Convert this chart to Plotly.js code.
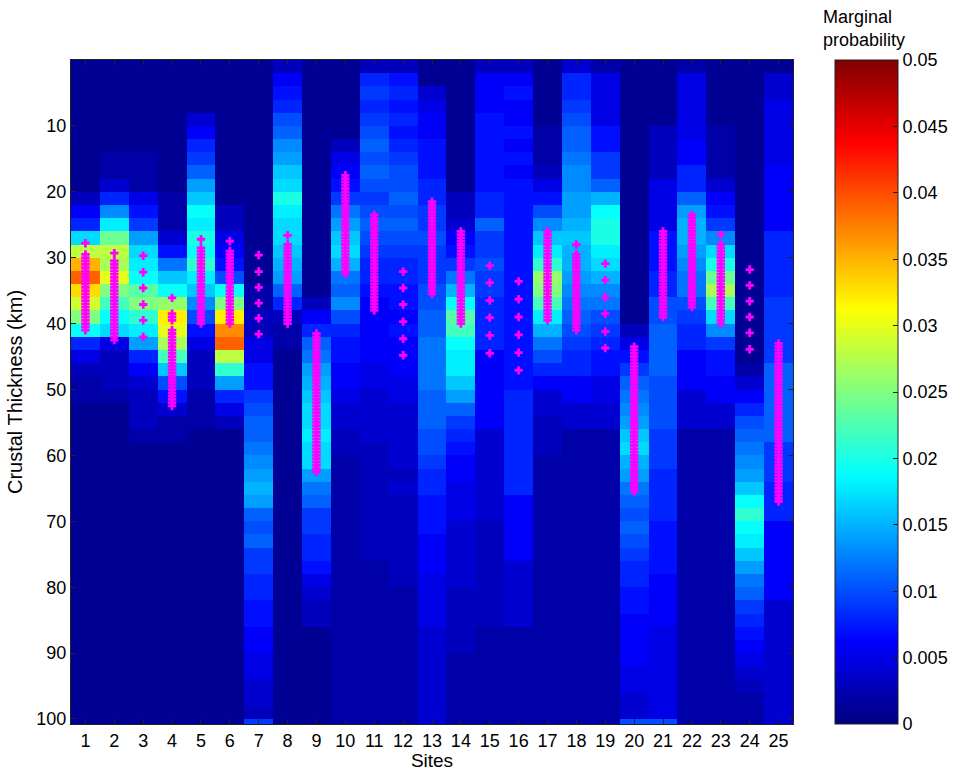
<!DOCTYPE html>
<html>
<head>
<meta charset="utf-8">
<script src="https://cdn.plot.ly/plotly-3.0.1.min.js"></script>
<style>html,body{margin:0;padding:0;background:#fff;}#chart{width:953px;height:771px;}</style>
</head>
<body>
<div id="chart"></div>
<script>
// Sites (x categories)
const sites = [1,2,3,4,5,6,7,8,9,10,11,12,13,14,15,16,17,18,19,20,21,22,23,24,25];
// Depth bin edges (km): 2 km bins, plus the thin bottom row
const depthEdges = [0,2,4,6,8,10,12,14,16,18,20,22,24,26,28,30,32,34,36,38,40,42,44,46,48,50,52,54,56,58,60,62,64,66,68,70,72,74,76,78,80,82,84,86,88,90,92,94,96,98,100,100.76];
// Marginal probability per site, in thousandths (value 10 = 0.010), one per depth bin
const site1  = [1,1,1,1,1,1,1,1,1,1, 3,6,8,17,28,35,39,33,29,25, 19,8,5,3,2,2,1,1,1,1, 1,1,1,1,1,1,1,1,1,1, 1,1,1,1,1,1,1,1,1,1, 1];
const site2  = [1,1,1,1,1,1,1,2,2,4, 8,13,18,24,28,27,30,25,22,19, 17,5,3,3,3,2,1,1,1,1, 1,1,1,1,1,1,1,1,1,1, 1,1,1,1,1,1,1,1,1,1, 1];
const site3  = [1,1,1,1,1,1,1,2,2,2, 5,7,9,14,17,18,19,23,25,21, 18,14,8,6,4,3,3,3,2,1, 1,1,1,1,1,1,1,1,1,1, 1,1,1,1,1,1,1,1,1,1, 1];
const site4  = [1,1,1,1,1,1,1,1,1,1, 2,2,2,4,7,12,16,19,26,32, 30,27,22,16,10,7,4,2,2,1, 1,1,1,1,1,1,1,1,1,1, 1,1,1,1,1,1,1,1,1,1, 1];
const site5  = [1,1,1,1,4,6,8,9,11,14, 16,19,18,20,19,21,18,16,13,10, 7,5,3,3,3,2,2,2,1,1, 1,1,1,1,1,1,1,1,1,1, 1,1,1,1,1,1,1,1,1,1, 1];
const site6  = [1,1,1,1,1,1,1,1,1,1, 1,3,3,5,6,7,10,19,25,32, 37,39,28,21,14,8,5,3,1,1, 1,1,1,1,1,1,1,1,1,1, 1,1,1,1,1,1,1,1,1,1, 1];
const site7  = [1,1,1,1,1,1,1,1,1,1, 1,1,1,1,1,1,1,2,2,3, 3,5,5,7,7,9,10,11,11,12, 13,14,15,14,11,10,11,9,9,8, 8,7,7,6,6,5,5,4,4,3, 9];
const site8  = [3,6,7,8,10,11,13,14,16,17, 20,18,17,17,16,15,14,11,8,3, 2,2,1,1,1,1,1,1,1,1, 1,1,1,1,1,1,1,1,1,1, 1,1,1,1,1,1,1,1,1,1, 1];
const site9  = [1,1,1,1,1,1,1,1,1,1, 1,1,1,1,1,1,1,1,3,6, 8,11,12,14,15,16,17,17,18,17, 17,14,12,11,9,9,8,8,7,5, 4,3,3,1,1,1,1,1,1,1, 1];
const site10 = [1,1,1,1,1,1,3,5,6,7, 9,12,14,16,17,15,12,11,13,10, 8,7,7,6,6,5,4,4,3,3, 2,2,2,2,2,2,2,2,2,2, 2,2,2,2,2,2,2,2,2,2, 2];
const site11 = [3,8,9,8,9,10,11,10,11,10, 9,10,11,10,9,8,8,7,6,6, 6,6,6,5,5,4,4,4,4,3, 3,3,3,3,3,3,3,3,2,2, 2,2,2,2,2,2,2,2,2,2, 2];
const site12 = [3,7,8,7,8,7,8,9,10,10, 11,10,11,10,9,8,8,7,7,6, 7,6,6,6,5,5,4,4,4,4, 4,3,4,3,3,3,3,3,3,3, 2,2,2,2,2,2,2,2,2,2, 2];
const site13 = [1,1,4,5,6,6,7,7,7,8, 8,9,9,10,9,9,9,10,10,11, 11,12,12,12,12,11,11,11,10,10, 9,8,8,7,7,7,6,6,6,5, 5,5,5,4,4,4,4,4,4,4, 4];
const site14 = [1,1,1,1,1,1,1,1,1,1, 3,3,4,6,7,9,12,15,19,23, 22,19,18,18,16,14,11,9,8,7, 6,6,5,5,5,4,4,4,4,4, 3,3,3,3,3,2,2,2,2,2, 2];
const site15 = [3,6,6,6,7,7,7,7,7,7, 8,8,11,9,9,10,9,9,8,8, 8,8,6,6,6,6,6,6,4,4, 4,4,4,4,4,3,3,3,3,3, 3,3,3,2,2,2,2,2,2,2, 2];
const site16 = [3,6,7,6,6,7,6,7,6,7, 7,7,7,7,7,7,7,7,7,7, 7,7,7,7,7,8,8,8,8,8, 8,8,8,6,6,6,6,6,4,4, 4,4,4,2,2,2,2,2,2,2, 2];
const site17 = [1,1,1,1,1,2,2,2,3,5, 7,10,13,16,18,21,26,25,22,18, 15,12,10,8,6,4,4,3,3,3, 2,2,2,2,2,2,2,2,2,2, 2,2,2,2,2,2,2,2,2,2, 2];
const site18 = [4,8,8,9,10,11,11,12,13,13, 14,14,15,16,15,15,14,13,12,11, 10,9,8,8,6,6,4,4,2,2, 2,2,2,2,2,2,2,2,2,2, 2,2,2,2,2,2,2,2,2,2, 2];
const site19 = [2,5,5,5,5,7,7,9,9,11, 15,19,20,20,18,17,15,13,12,10, 9,8,7,7,5,5,4,4,2,2, 2,2,2,2,2,2,2,2,2,2, 2,2,2,2,2,2,2,2,2,2, 2];
const site20 = [1,1,1,1,1,1,1,1,1,1, 1,1,1,1,1,1,1,1,1,1, 3,5,7,9,11,12,13,14,16,17, 15,14,12,11,10,11,10,9,8,8, 7,7,6,6,6,6,5,5,4,4, 10];
const site21 = [1,1,1,1,1,3,3,3,3,5, 5,5,5,7,7,7,8,8,10,10, 11,11,11,11,10,10,10,10,9,9, 9,8,8,8,8,7,7,7,7,6, 6,6,6,5,5,5,5,5,5,5, 10];
const site22 = [2,5,5,5,5,5,6,6,8,8, 11,14,15,15,14,13,12,12,10,9, 8,8,6,6,6,4,4,4,2,2, 2,2,2,2,2,2,2,2,2,2, 2,2,2,2,2,2,2,2,2,2, 2];
const site23 = [1,1,1,1,1,2,2,2,2,4, 6,7,9,13,17,20,24,27,22,17, 13,9,7,7,6,6,4,4,2,2, 2,2,2,2,2,2,2,2,2,2, 2,2,2,2,2,2,2,2,2,2, 2];
const site24 = [1,1,1,1,1,1,1,1,1,1, 1,1,1,1,1,1,1,1,1,1, 1,1,1,2,4,6,8,10,11,12, 13,14,16,19,21,19,18,16,14,12, 11,9,8,7,6,5,4,3,2,2, 2];
const site25 = [1,4,4,5,5,5,5,5,6,6, 6,6,6,8,8,8,8,8,9,9, 9,9,9,11,11,11,11,11,11,9, 9,9,8,8,8,6,6,6,6,6, 6,4,4,4,4,4,4,4,4,4, 4];
const siteProbs = [site1,site2,site3,site4,site5,site6,site7,site8,site9,site10,site11,site12,site13,site14,site15,site16,site17,site18,site19,site20,site21,site22,site23,site24,site25];

// Crustal thickness estimates (km) shown as magenta crosses, per site
const marks1  = [27.8,29.5,30,30.5,31,31.5,32,32.5,33,33.5,34,34.5,35,35.5,36,36.5,37,37.5,38,38.5,39,39.5,40,40.5,41];
const marks2  = [29.3,30.5,31,31.5,32,32.5,33,33.5,34,34.5,35,35.5,36,36.5,37,37.5,38,38.5,39,39.5,40,40.5,41,41.5,42,42.5];
const marks3  = [29.7,32.2,34.6,37.1,39.5,42];
const marks4  = [36.1,38.5,39,39.5,41,41.5,42,42.5,43,43.5,44,44.5,45,45.5,46,46.5,47,47.5,48,48.5,49,49.5,50,50.5,51,51.5,52,52.5];
const marks5  = [27.2,28.5,29,29.5,30,30.5,31,31.5,32,32.5,33,33.5,34,34.5,35,35.5,36,36.5,37,37.5,38,38.5,39,39.5,40];
const marks6  = [27.5,29,29.5,30,30.5,31,31.5,32,32.5,33,33.5,34,34.5,35,35.5,36,36.5,37,37.5,38,38.5,39,39.5,40];
const marks7  = [29.6,32.1,34.5,36.9,39.2,41.6];
const marks8  = [26.6,28,28.5,29,29.5,30,30.5,31,31.5,32,32.5,33,33.5,34,34.5,35,35.5,36,36.5,37,37.5,38,38.5,39,39.5,40];
const marks9  = [41.5,42,42.5,43,43.5,44,44.5,45,45.5,46,46.5,47,47.5,48,48.5,49,49.5,50,50.5,51,51.5,52,52.5,53,53.5,54,54.5,55,55.5,56,56.5,57,57.5,58,58.5,59,59.5,60,60.5,61,61.5,62,62.5];
const marks10 = [17.5,18,18.5,19,19.5,20,20.5,21,21.5,22,22.5,23,23.5,24,24.5,25,25.5,26,26.5,27,27.5,28,28.5,29,29.5,30,30.5,31,31.5,32,32.5];
const marks11 = [23.5,24,24.5,25,25.5,26,26.5,27,27.5,28,28.5,29,29.5,30,30.5,31,31.5,32,32.5,33,33.5,34,34.5,35,35.5,36,36.5,37,37.5,38];
const marks12 = [32.1,34.6,37.1,39.7,42.3,44.8];
const marks13 = [21.5,22,22.5,23,23.5,24,24.5,25,25.5,26,26.5,27,27.5,28,28.5,29,29.5,30,30.5,31,31.5,32,32.5,33,33.5,34,34.5,35,35.5];
const marks14 = [26,26.5,27,27.5,28,28.5,29,29.5,30,30.5,31,31.5,32,32.5,33,33.5,34,34.5,35,35.5,36,36.5,37,37.5,38,38.5,39,39.5,40];
const marks15 = [31.2,33.8,36.5,39.1,41.8,44.5];
const marks16 = [33.6,36.3,39.0,41.7,44.4,47.1];
const marks17 = [26,26.5,27,27.5,28,28.5,29,29.5,30,30.5,31,31.5,32,32.5,33,33.5,34,34.5,35,35.5,36,36.5,37,37.5,38,38.5,39,39.5];
const marks18 = [28,29.5,30,30.5,31,31.5,32,32.5,33,33.5,34,34.5,35,35.5,36,36.5,37,37.5,38,38.5,39,39.5,40,40.5,41];
const marks19 = [30.9,33.4,36.0,38.5,41.2,43.7];
const marks20 = [43.5,44,44.5,45,45.5,46,46.5,47,47.5,48,48.5,49,49.5,50,50.5,51,51.5,52,52.5,53,53.5,54,54.5,55,55.5,56,56.5,57,57.5,58,58.5,59,59.5,60,60.5,61,61.5,62,62.5,63,63.5,64,64.5,65,65.5];
const marks21 = [26,26.5,27,27.5,28,28.5,29,29.5,30,30.5,31,31.5,32,32.5,33,33.5,34,34.5,35,35.5,36,36.5,37,37.5,38,38.5,39];
const marks22 = [23.5,24,24.5,25,25.5,26,26.5,27,27.5,28,28.5,29,29.5,30,30.5,31,31.5,32,32.5,33,33.5,34,34.5,35,35.5,36,36.5,37,37.5];
const marks23 = [26.5,28,28.5,29,29.5,30,30.5,31,31.5,32,32.5,33,33.5,34,34.5,35,35.5,36,36.5,37,37.5,38,38.5,39,39.5,40];
const marks24 = [31.8,34.2,36.6,39.0,41.4,43.9];
const marks25 = [43,43.5,44,44.5,45,45.5,46,46.5,47,47.5,48,48.5,49,49.5,50,50.5,51,51.5,52,52.5,53,53.5,54,54.5,55,55.5,56,56.5,57,57.5,58,58.5,59,59.5,60,60.5,61,61.5,62,62.5,63,63.5,64,64.5,65,65.5,66,66.5,67];
const siteMarks = [marks1,marks2,marks3,marks4,marks5,marks6,marks7,marks8,marks9,marks10,marks11,marks12,marks13,marks14,marks15,marks16,marks17,marks18,marks19,marks20,marks21,marks22,marks23,marks24,marks25];

// Axis ticks
const depthTicks = [10,20,30,40,50,60,70,80,90,100];
const cbarTicks = [0,0.005,0.01,0.015,0.02,0.025,0.03,0.035,0.04,0.045,0.05];
const cbarLabels = ['0','0.005','0.01','0.015','0.02','0.025','0.03','0.035','0.04','0.045','0.05'];

// Build z matrix: rows = depth bins, columns = sites
const nRows = depthEdges.length - 1;
const z = [];
for (let r = 0; r < nRows; r++) {
  const row = [];
  for (let c = 0; c < sites.length; c++) row.push(siteProbs[c][r] / 1000);
  z.push(row);
}
const mx = [], my = [];
siteMarks.forEach((arr, i) => arr.forEach(d => { mx.push(sites[i]); my.push(d); }));

const xEdges = [0.5].concat(sites.map(s => s + 0.5));

const jet = [[0,'rgb(0,0,128)'],[0.125,'rgb(0,0,255)'],[0.375,'rgb(0,255,255)'],[0.625,'rgb(255,255,0)'],[0.875,'rgb(255,0,0)'],[1,'rgb(128,0,0)']];
const FONT = '"Liberation Sans", Arial, Helvetica, sans-serif';
const ZMAX = 0.05;
const CB_X = 1.0582;              // colorbar left edge in paper units
const CB_TICK = 5 / 722;          // 5 px tick length in paper units

const heat = {
  type: 'heatmap',
  x: xEdges,
  y: depthEdges,
  z: z,
  zmin: 0, zmax: ZMAX,
  colorscale: jet,
  zsmooth: false,
  hoverinfo: 'skip',
  colorbar: {
    x: CB_X, xanchor: 'left', xpad: 0, ypad: 0,
    y: 0.5, yanchor: 'middle', len: 1.0, lenmode: 'fraction',
    thickness: 63, thicknessmode: 'pixels',
    outlinecolor: '#222', outlinewidth: 1,
    tickvals: cbarTicks, ticktext: cbarLabels,
    ticks: 'inside', ticklen: 5, tickcolor: '#222',
    tickfont: {family: FONT, size: 18, color: '#000'}
  }
};
const marks = {
  type: 'scatter', mode: 'markers',
  x: mx, y: my,
  marker: {symbol: 'cross', size: 7, color: '#ff00ff', line: {width: 0}},
  hoverinfo: 'skip', showlegend: false
};

// mirrored tick marks on the left edge of the colour bar
const cbShapes = cbarTicks.slice(1, -1).map(v => ({
  type: 'line', xref: 'paper', yref: 'paper',
  x0: CB_X, x1: CB_X + CB_TICK, y0: v / ZMAX, y1: v / ZMAX,
  line: {color: '#222', width: 1}
}));

const layout = {
  width: 953, height: 771,
  margin: {l: 71, r: 160, t: 60, b: 47, autoexpand: false},
  paper_bgcolor: '#fff', plot_bgcolor: '#000080',
  font: {family: FONT, size: 18, color: '#000'},
  showlegend: false,
  xaxis: {
    range: [0.5, 25.5], tickvals: sites, ticktext: sites.map(String),
    ticks: 'inside', ticklen: 5, tickcolor: '#222',
    showline: true, linecolor: '#222', linewidth: 1, mirror: 'ticks',
    showgrid: false, zeroline: false, automargin: false,
    tickfont: {family: FONT, size: 18},
    title: {text: 'Sites', font: {family: FONT, size: 19}, standoff: 2}
  },
  yaxis: {
    range: [100.76, 0], tickvals: depthTicks, ticktext: depthTicks.map(String),
    ticks: 'inside', ticklen: 5, tickcolor: '#222',
    showline: true, linecolor: '#222', linewidth: 1, mirror: 'ticks',
    showgrid: false, zeroline: false, automargin: false,
    tickfont: {family: FONT, size: 18},
    title: {text: 'Crustal Thickness (km)', font: {family: FONT, size: 20}, standoff: 8}
  },
  shapes: cbShapes,
  annotations: [{
    xref: 'paper', yref: 'paper', x: 1.039, y: 1.012,
    xanchor: 'left', yanchor: 'bottom', align: 'left',
    text: 'Marginal<br>probability', showarrow: false,
    font: {family: FONT, size: 18, color: '#000'}
  }]
};

Plotly.newPlot('chart', [heat, marks], layout, {displayModeBar: false, staticPlot: true});
</script>
</body>
</html>
